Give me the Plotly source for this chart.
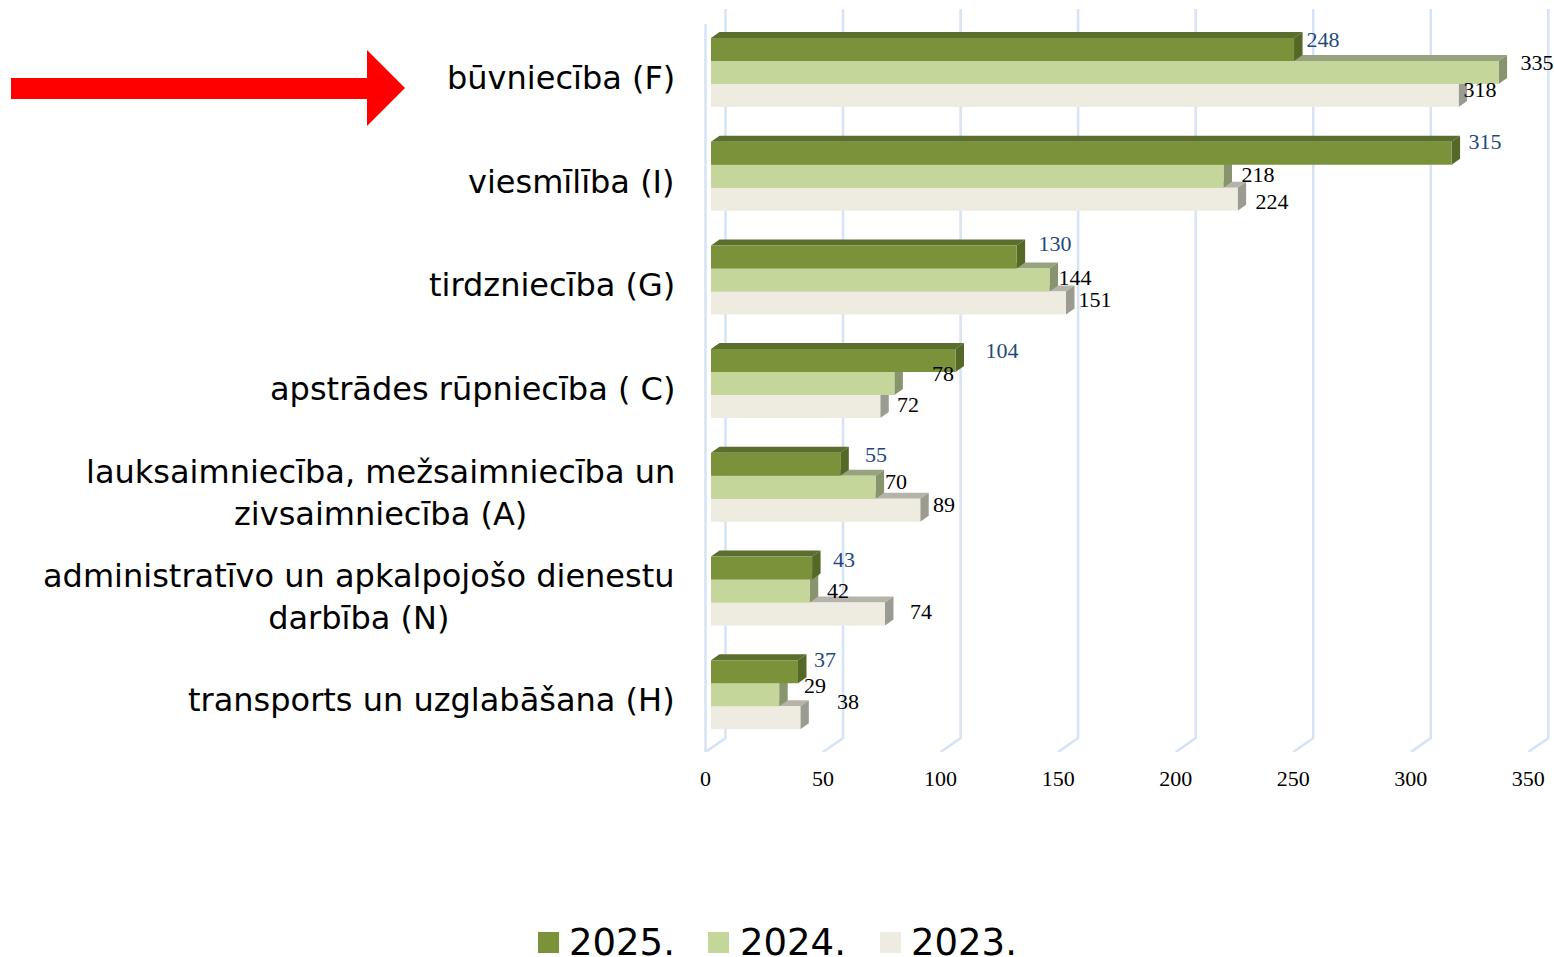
import plotly.graph_objects as go

categories = ["būvniecība (F)", "viesmīlība (I)", "tirdzniecība (G)", "apstrādes rūpniecība ( C)",
              "lauksaimniecība, mežsaimniecība un<br>zivsaimniecība (A)",
              "administratīvo un apkalpojošo dienestu<br>darbība (N)", "transports un uzglabāšana (H)"]
v2025 = [248, 315, 130, 104, 55, 43, 37]
v2024 = [335, 218, 144, 78, 70, 42, 29]
v2023 = [318, 224, 151, 72, 89, 74, 38]
ticks = [0, 50, 100, 150, 200, 250, 300, 350]

# label nudges in pixels from bar end / bar centre
off2025 = [(29, -9.5), (33.4, -11), (38.4, -12), (46.5, -9.6), (35.7, -9.3), (32, -8), (27, -11.7)]
off2024 = [(38.4, -9.5), (34.5, -1.2), (25.5, -1.9), (48.6, -9.6), (20.4, -5.3), (28.3, 0), (35.8, -8.7)]
off2023 = [(21.4, -5.5), (34.4, 2.8), (29, -2.9), (27.7, -1.6), (23.8, -5.3), (36, -2), (47.7, -15.7)]

W, H = 1554, 957
PX_X = 2.351      # px per value unit
PX_Y = 103.7      # px per category
X0_PX = 705.5     # px of value 0 on the axis
Y0_PX = 72.5      # px of first category centre
AXIS_PX = 752
BAR_H = 23 / PX_Y
BASE = 5.5 / PX_X
DX = 8.5 / PX_X
DY = 6 / PX_Y
BACK = 20 / PX_X
BACK_Y = 14 / PX_Y
SERIF = "Liberation Serif"
SANS = "DejaVu Sans"
GRID = "#D6E3F5"

series = [
    ("2023.", v2023, 1, "#EEECE1", "#B5B3AA", "#9C9B92", "#000000", off2023),
    ("2024.", v2024, 0, "#C4D699", "#97A37F", "#87946E", "#000000", off2024),
    ("2025.", v2025, -1, "#7A933B", "#5C6E2E", "#556828", "#1F497D", off2025),
]

xr = [(0 - X0_PX) / PX_X, (W - X0_PX) / PX_X]
yr = [(AXIS_PX - Y0_PX) / PX_Y, (0 - Y0_PX) / PX_Y]
y_axis = yr[0]

shapes = []
for t in ticks:
    # floor diagonal then back-wall line
    shapes.append(dict(type="path", xref="x", yref="y", layer="below",
                       path=f"M{t},{y_axis} L{t + BACK},{y_axis - BACK_Y} L{t + BACK},{y_axis - 743 / PX_Y}",
                       line=dict(color=GRID, width=2.5)))
shapes.append(dict(type="line", xref="x", yref="y", layer="below", x0=0, x1=0,
                   y0=y_axis, y1=y_axis - 728 / PX_Y, line=dict(color=GRID, width=2.5)))

fig = go.Figure()
for name, vals, pos, front, top, side, lab, off in series:
    ys = [i + pos * BAR_H for i in range(len(vals))]
    for v, y in zip(vals, ys):
        e = v + BASE
        t_, b_ = y - BAR_H / 2, y + BAR_H / 2
        shapes.append(dict(type="path", xref="x", yref="y", layer="below", line=dict(width=0), fillcolor=top,
                           path=f"M{BASE},{t_} L{BASE + DX},{t_ - DY} L{e + DX},{t_ - DY} L{e},{t_} Z"))
        shapes.append(dict(type="path", xref="x", yref="y", layer="below", line=dict(width=0), fillcolor=side,
                           path=f"M{e},{t_} L{e + DX},{t_ - DY} L{e + DX},{b_ - DY} L{e},{b_} Z"))
    fig.add_trace(go.Bar(name=name, orientation="h", x=vals, y=ys, base=[BASE] * len(vals), width=BAR_H,
                         marker=dict(color=front, line=dict(width=0)), showlegend=False))
    fig.add_trace(go.Scatter(mode="text", x=[v + BASE + o[0] / PX_X for v, o in zip(vals, off)],
                             y=[y + (o[1] + 1) / PX_Y for y, o in zip(ys, off)],
                             text=[str(v) for v in vals], textposition="middle center",
                             textfont=dict(family=SERIF, size=22, color=lab), showlegend=False,
                             cliponaxis=False, hoverinfo="skip"))

annotations = []
for i, c in enumerate(categories):
    annotations.append(dict(text=c, x=677 / W, xref="paper", xanchor="right", y=i, yref="y", yanchor="middle",
                            yshift=-5.5, align="center", showarrow=False,
                            font=dict(family=SANS, size=32, color="#000000")))

# legend
for name, x_sw, x_txt, colr in [("2025.", 538, 567, "#7A933B"), ("2024.", 708, 738, "#C4D699"), ("2023.", 880, 909, "#EEECE1")]:
    shapes.append(dict(type="rect", xref="paper", yref="paper", x0=x_sw / W, x1=(x_sw + 21) / W,
                       y0=1 - 953 / H, y1=1 - 932 / H, fillcolor=colr, line=dict(width=0)))
    annotations.append(dict(text=name, x=x_txt / W, xref="paper", xanchor="left", y=1 - 942 / H, yref="paper",
                            yanchor="middle", showarrow=False, font=dict(family=SANS, size=37, color="#000000")))

# red arrow
arrow = [(11, 78), (367, 78), (367, 50), (405, 88), (367, 126), (367, 99), (11, 99)]
p = "M" + " L".join(f"{x / W},{1 - y / H}" for x, y in arrow) + " Z"
shapes.append(dict(type="path", xref="paper", yref="paper", path=p, fillcolor="#FF0000", line=dict(width=0)))

fig.update_layout(
    width=W, height=H, margin=dict(l=0, r=0, t=0, b=0), barmode="overlay",
    plot_bgcolor="white", paper_bgcolor="white", shapes=shapes, annotations=annotations, showlegend=False,
    xaxis=dict(range=xr, domain=[0, 1], tickmode="array", tickvals=ticks, ticktext=[str(t) for t in ticks],
               showgrid=False, zeroline=False, showline=False, ticks="outside", ticklen=7,
               tickcolor="rgba(0,0,0,0)", tickfont=dict(family=SERIF, size=22, color="#000000")),
    yaxis=dict(range=yr, domain=[1 - AXIS_PX / H, 1], showgrid=False, zeroline=False, showline=False,
               showticklabels=False, ticks=""),
)
fig.write_html("out.html", config=dict(displayModeBar=False),
               post_script="document.body.style.margin='0';document.body.style.overflow='hidden';")
